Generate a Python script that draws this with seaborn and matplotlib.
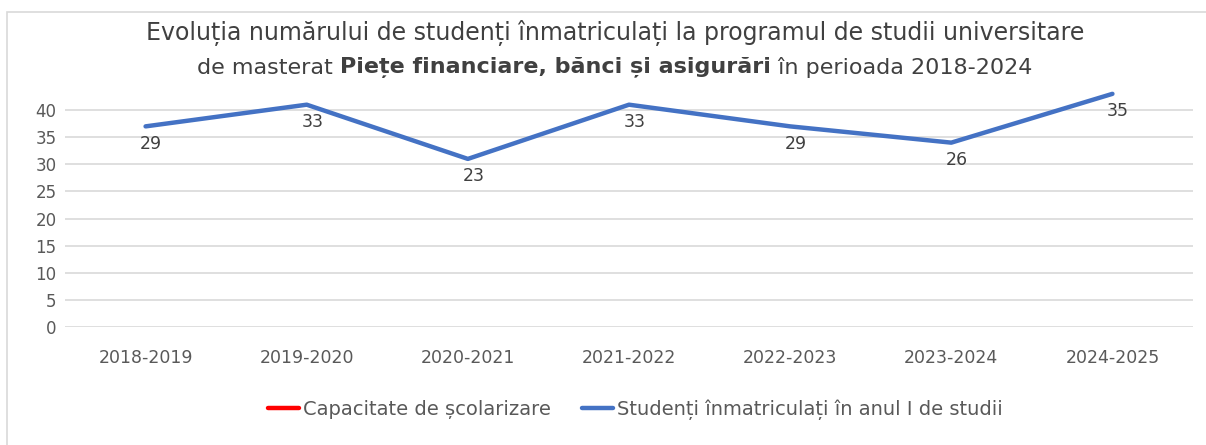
import pandas as pd
import seaborn as sns
import matplotlib.pyplot as plt
from matplotlib.lines import Line2D
from matplotlib.patches import Rectangle

years = ['2018-2019', '2019-2020', '2020-2021', '2021-2022',
         '2022-2023', '2023-2024', '2024-2025']
# position of the blue line as drawn in the chart
line_values = [37, 41, 31, 41, 37, 34, 43]
# data labels shown next to the points
label_values = [29, 33, 23, 33, 29, 26, 35]

df = pd.DataFrame({'an': years, 'studenti': line_values})

sns.set_theme(style='white')
plt.rcParams['font.family'] = ['DejaVu Sans']

txt_col = '#595959'
blue = '#4472C4'

fig = plt.figure(figsize=(12.06, 4.45), dpi=100)
ax = fig.add_axes([65 / 1206, 118 / 445, (1193 - 65) / 1206, (327 - 83) / 445])

sns.lineplot(data=df, x='an', y='studenti', ax=ax, color=blue, lw=3.2,
             sort=False, legend=False)

for i, (v, lab) in enumerate(zip(line_values, label_values)):
    ax.annotate(str(lab), (i, v), xytext=(4, -6), textcoords='offset points',
                ha='center', va='top', fontsize=12.5, color='#404040')

ax.set_xlim(-0.5, 6.5)
ax.set_ylim(0, 45)
ax.set_yticks(range(0, 45, 5))
ax.yaxis.grid(True, color='#d9d9d9', lw=1.2)
ax.set_axisbelow(True)
for s in ax.spines.values():
    s.set_visible(False)
ax.set_xlabel('')
ax.set_ylabel('')
ax.tick_params(axis='y', labelsize=12, labelcolor=txt_col, pad=6, length=0)
ax.tick_params(axis='x', labelsize=12.5, labelcolor=txt_col, pad=16, length=0)

# outer chart frame
fig.patches.append(Rectangle((7 / 1206, -0.01), 1.0, (445 - 12) / 445 + 0.01,
                             transform=fig.transFigure, fill=False,
                             edgecolor='#d9d9d9', lw=1.2))

# title, second line has a bold part
title_kw = dict(color='#404040', va='center')
fig.text(0.51, 1 - 33 / 445,
         'Evoluția numărului de studenți înmatriculați la programul de studii universitare',
         ha='center', fontsize=17, **title_kw)

parts = [('de masterat ', 'normal'),
         ('Piețe financiare, bănci și asigurări', 'bold'),
         (' în perioada 2018-2024', 'normal')]
renderer = fig.canvas.get_renderer()
texts = []
widths = []
for s, w in parts:
    t = fig.text(0, 1 - 68 / 445, s, ha='left', fontweight=w, fontsize=16,
                 **title_kw)
    bb = t.get_window_extent(renderer)
    texts.append(t)
    widths.append(bb.width)
total = sum(widths)
x0 = 0.51 * fig.bbox.width - total / 2
for t, wd in zip(texts, widths):
    t.set_x(x0 / fig.bbox.width)
    x0 += wd

handles = [Line2D([], [], color='#FF0000', lw=3.2),
           Line2D([], [], color=blue, lw=3.2)]
fig.legend(handles, ['Capacitate de școlarizare',
                     'Studenți înmatriculați în anul I de studii'],
           loc='center', bbox_to_anchor=(0.527, 1 - 410 / 445), ncol=2,
           frameon=False, fontsize=14, labelcolor=txt_col,
           handlelength=1.6, handletextpad=0.2, columnspacing=1.6)

fig.savefig('out.png', dpi=100)
